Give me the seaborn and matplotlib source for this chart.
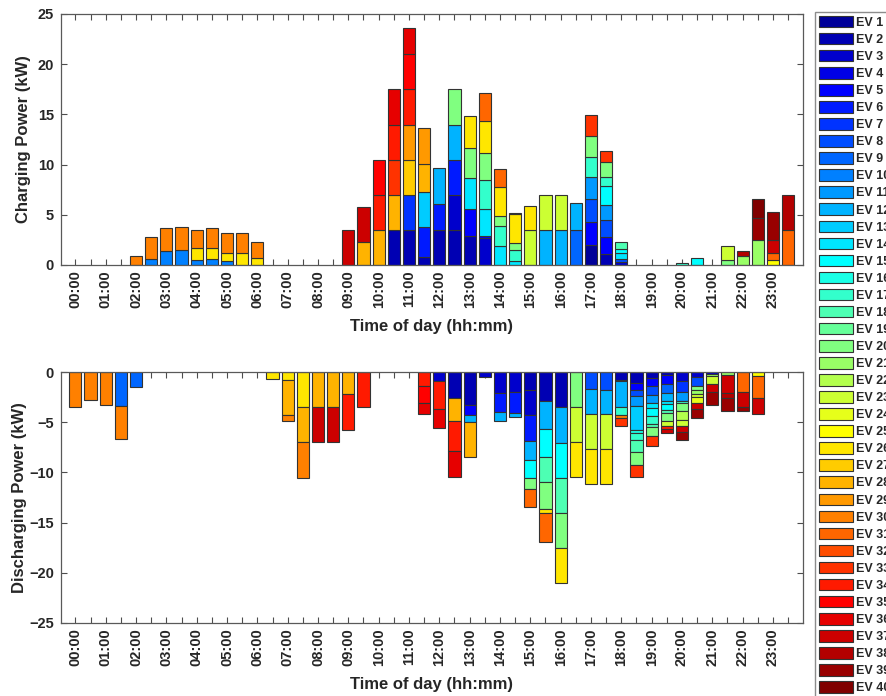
import matplotlib
matplotlib.use('Agg')
import matplotlib.pyplot as plt
import seaborn as sns
import numpy as np
import pandas as pd
from matplotlib.patches import Patch

# half-hour slots 00:00 .. 23:30 and the 40 vehicles
time_slots = [f'{h:02d}:{m:02d}' for h in range(24) for m in (0, 30)]
ev_names = [f'EV {i}' for i in range(1, 41)]

# charging power per slot: (EV number, kW), stacked from zero upward
charging = {
    '02:00': [(30, 0.86)],
    '02:30': [(10, 0.63), (30, 2.17)],
    '03:00': [(10, 1.36), (30, 2.37)],
    '03:30': [(10, 1.46), (30, 2.33)],
    '04:00': [(10, 0.53), (26, 1.17), (30, 1.83)],
    '04:30': [(10, 0.63), (26, 1.07), (30, 2.03)],
    '05:00': [(10, 0.37), (26, 0.83), (30, 2.03)],
    '05:30': [(26, 1.2), (30, 2.03)],
    '06:00': [(26, 0.7), (30, 1.6)],
    '09:00': [(37, 3.46)],
    '09:30': [(28, 2.3), (37, 3.49)],
    '10:00': [(28, 3.46), (34, 3.53), (35, 3.49)],
    '10:30': [(2, 3.46), (28, 3.53), (33, 3.49), (34, 3.49), (36, 3.53)],
    '11:00': [(2, 3.46), (7, 3.53), (27, 3.49), (29, 3.49), (34, 3.53), (35, 3.49), (36, 2.6)],
    '11:30': [(2, 0.77), (6, 3.02), (13, 3.49), (28, 2.77), (29, 3.55)],
    '12:00': [(2, 3.46), (6, 2.66), (12, 3.56)],
    '12:30': [(2, 3.46), (3, 3.53), (6, 3.49), (12, 3.49), (20, 3.53)],
    '13:00': [(2, 2.93), (5, 2.69), (14, 3.0), (20, 3.06), (26, 3.12)],
    '13:30': [(3, 2.69), (5, 0.24), (14, 2.69), (17, 2.86), (20, 2.72), (26, 3.1), (31, 2.8)],
    '14:00': [(14, 1.86), (17, 2.07), (20, 0.96), (26, 2.89), (31, 1.77)],
    '14:30': [(14, 0.4), (17, 1.06), (20, 0.77), (26, 2.83), (36, 0.16)],
    '15:00': [(23, 3.46), (26, 2.43)],
    '15:30': [(12, 3.46), (23, 3.49)],
    '16:00': [(12, 3.46), (23, 3.49)],
    '16:30': [(9, 3.46), (12, 2.76)],
    '17:00': [(1, 1.96), (5, 2.33), (8, 2.33), (11, 2.16), (17, 1.93), (20, 2.16), (33, 2.03)],
    '17:30': [(2, 1.06), (5, 1.73), (8, 1.73), (11, 1.5), (15, 1.83), (17, 0.87), (20, 1.56), (33, 1.06)],
    '18:00': [(3, 0.3), (8, 0.33), (14, 0.57), (15, 0.36), (18, 0.77)],
    '20:00': [(17, 0.23)],
    '20:30': [(15, 0.67)],
    '21:30': [(20, 0.53), (23, 1.33)],
    '22:00': [(21, 0.9), (38, 0.5)],
    '22:30': [(21, 2.46), (39, 2.23), (40, 1.86)],
    '23:00': [(25, 0.53), (31, 0.67), (37, 1.33), (39, 2.76)],
    '23:30': [(31, 3.46), (38, 3.49)],
}

# discharging power per slot: (EV number, kW), stacked from zero downward
discharging = {
    '00:00': [(30, 3.49)],
    '00:30': [(30, 2.82)],
    '01:00': [(30, 3.32)],
    '01:30': [(9, 3.36), (30, 3.28)],
    '02:00': [(9, 1.46)],
    '06:30': [(26, 0.7)],
    '07:00': [(26, 0.83), (28, 3.49), (30, 0.53)],
    '07:30': [(26, 3.52), (28, 3.49), (30, 3.52)],
    '08:00': [(28, 3.49), (37, 3.52)],
    '08:30': [(28, 3.49), (37, 3.52)],
    '09:00': [(28, 2.23), (34, 3.52)],
    '09:30': [(34, 3.49)],
    '11:30': [(34, 1.43), (35, 1.63), (36, 1.09)],
    '12:00': [(3, 0.9), (34, 2.75), (36, 1.93)],
    '12:30': [(2, 2.59), (28, 2.33), (34, 2.92), (36, 2.66)],
    '13:00': [(2, 3.26), (5, 0.99), (12, 0.73), (28, 3.52)],
    '13:30': [(3, 0.5)],
    '14:00': [(3, 2.09), (6, 1.9), (12, 0.86)],
    '14:30': [(3, 2.0), (6, 2.09), (12, 0.43)],
    '15:00': [(2, 1.76), (3, 2.49), (6, 2.63), (12, 1.86), (15, 1.86), (20, 1.09), (31, 1.8)],
    '15:30': [(2, 2.86), (12, 2.82), (15, 2.82), (18, 2.46), (20, 2.73), (26, 0.4), (31, 2.85)],
    '16:00': [(2, 3.52), (12, 3.52), (15, 3.49), (18, 3.52), (20, 3.49), (26, 3.46)],
    '16:30': [(20, 3.52), (23, 3.46), (26, 3.45)],
    '17:00': [(8, 1.69), (12, 2.46), (23, 3.52), (26, 3.49)],
    '17:30': [(8, 1.76), (12, 2.39), (23, 3.52), (26, 3.49)],
    '18:00': [(2, 0.76), (8, 0.17), (12, 2.56), (17, 0.83), (30, 0.23), (33, 0.83)],
    '18:30': [(2, 1.1), (5, 0.73), (8, 0.59), (11, 0.97), (13, 2.42), (16, 0.27), (17, 0.73),
              (18, 1.13), (20, 1.3), (33, 1.19)],
    '19:00': [(2, 0.6), (5, 0.8), (8, 0.86), (11, 0.83), (14, 0.5), (15, 0.83), (17, 0.73),
              (18, 0.33), (20, 0.93), (33, 0.93)],
    '19:30': [(2, 0.33), (5, 0.83), (9, 0.9), (12, 0.83), (14, 0.27), (15, 0.66), (18, 0.27),
              (20, 0.83), (23, 0.5), (34, 0.3), (37, 0.36)],
    '20:00': [(3, 0.93), (7, 1.07), (11, 0.89), (17, 0.2), (20, 0.83), (22, 0.83), (23, 0.63),
              (37, 0.6), (39, 0.76)],
    '20:30': [(3, 0.5), (8, 0.9), (20, 0.36), (21, 0.4), (23, 0.33), (24, 0.57), (37, 0.59), (39, 0.9)],
    '21:00': [(3, 0.17), (21, 0.23), (23, 0.76), (37, 0.84), (39, 1.26)],
    '21:30': [(21, 0.33), (37, 1.73), (38, 0.5), (39, 1.33)],
    '22:00': [(31, 2.03), (37, 1.46), (39, 0.4)],
    '22:30': [(25, 0.43), (31, 2.13), (37, 1.66)],
}


def jet(m):
    # same construction as MATLAB's jet(m)
    n = int(np.ceil(m / 4))
    u = np.concatenate([np.arange(1, n + 1) / n, np.ones(n - 1), np.arange(n, 0, -1) / n])
    g = int(np.ceil(n / 2)) - (m % 4 == 1) + np.arange(1, len(u) + 1)
    r, b = g + n, g - n
    J = np.zeros((m, 3))
    J[r[r <= m] - 1, 0] = u[r <= m]
    J[g[g <= m] - 1, 1] = u[g <= m]
    J[b[b >= 1] - 1, 2] = u[b >= 1]
    return J


palette = dict(zip(ev_names, map(tuple, jet(40))))


def to_frame(segments, sign):
    rows = [(time_slots.index(t), f'EV {ev}', sign * kw)
            for t, segs in segments.items() for ev, kw in segs]
    return pd.DataFrame(rows, columns=['slot', 'ev', 'kw'])


sns.set_style('ticks')
plt.rcParams['font.family'] = ['Liberation Sans', 'DejaVu Sans']
plt.rcParams['font.weight'] = 'bold'
plt.rcParams['axes.labelweight'] = 'bold'

fig = plt.figure(figsize=(8.86, 6.96), dpi=100)
ax1 = fig.add_axes([0.0688, 0.6193, 0.8375, 0.3606])
ax2 = fig.add_axes([0.0688, 0.1049, 0.8375, 0.3606])

for ax, data, sign in [(ax1, charging, 1), (ax2, discharging, -1)]:
    sns.histplot(data=to_frame(data, sign), x='slot', weights='kw', hue='ev',
                 hue_order=ev_names[::-1], palette=palette, multiple='stack',
                 discrete=True, shrink=0.8, edgecolor='0.2', linewidth=0.8,
                 alpha=1, legend=False, ax=ax)
    for p in ax.patches:
        if abs(p.get_height()) < 1e-9:
            p.set_visible(False)

    ax.set_xlim(-0.95, 47.98)
    ax.set_xticks(range(48))
    ax.set_xticklabels([t if t.endswith(':00') else '' for t in time_slots], rotation=90)
    ax.tick_params(direction='in', top=True, right=True, length=4, width=0.8,
                   color='0.3', labelsize=10.5)
    ax.tick_params(axis='x', pad=4)
    ax.tick_params(axis='y', pad=5)
    for s in ax.spines.values():
        s.set_color('0.35')
        s.set_linewidth(0.9)
    ax.set_xlabel('Time of day (hh:mm)', fontsize=12)
    ax.xaxis.set_label_coords(0.5, -0.216)

ax1.set_ylim(0, 25)
ax1.set_yticks(range(0, 26, 5))
ax1.set_ylabel('Charging Power (kW)', fontsize=12)
ax1.yaxis.set_label_coords(-0.040, 0.5)

ax2.set_ylim(-25, 0)
ax2.set_yticks(range(-25, 1, 5))
ax2.set_ylabel('Discharging Power (kW)', fontsize=12)
ax2.yaxis.set_label_coords(-0.046, 0.5)

# shared legend, running past the right and bottom edges as in the original
handles = [Patch(facecolor=palette[n], edgecolor='0.2', linewidth=0.8, label=n) for n in ev_names]
fig.legend(handles=handles, loc='upper left', bbox_to_anchor=(815 / 886, 1 - 12 / 696),
           fontsize=9, frameon=True, fancybox=False, edgecolor='0.55', framealpha=1,
           handlelength=2.7, handleheight=1.05, labelspacing=0.32, borderpad=0.3,
           handletextpad=0.25, borderaxespad=0)

fig.savefig('out.png', dpi=100)
